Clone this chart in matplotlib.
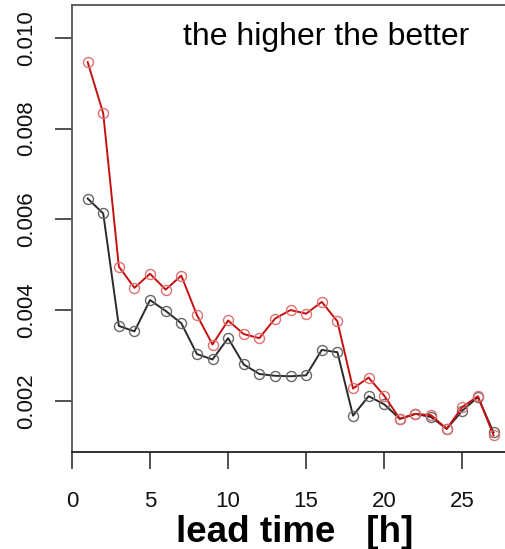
import matplotlib
matplotlib.use("Agg")
import matplotlib.pyplot as plt

lead_time = list(range(1, 28))
red_series = [0.00947, 0.00834, 0.00496, 0.00449, 0.00480, 0.00445, 0.00476, 0.00389,
              0.00324, 0.00377, 0.00347, 0.00338, 0.00381, 0.00400, 0.00392, 0.00418,
              0.00375, 0.00227, 0.00251, 0.00211, 0.00160, 0.00171, 0.00168, 0.00138,
              0.00186, 0.00210, 0.00124]
black_series = [0.00646, 0.00613, 0.00365, 0.00353, 0.00422, 0.00398, 0.00371, 0.00303,
                0.00291, 0.00338, 0.00280, 0.00259, 0.00255, 0.00254, 0.00256, 0.00312,
                0.00307, 0.00167, 0.00210, 0.00192, 0.00160, 0.00171, 0.00164, 0.00138,
                0.00178, 0.00208, 0.00130]
x_ticks = [0, 5, 10, 15, 20, 25]
y_ticks = [0.002, 0.004, 0.006, 0.008, 0.010]
y_ticklabels = ["0.002", "0.004", "0.006", "0.008", "0.010"]
annotation = "the higher the better"
x_label = "lead time   [h]"

plt.rcParams['font.family'] = ['Liberation Sans', 'DejaVu Sans']

W, H = 506, 549
fig = plt.figure(figsize=(W / 100, H / 100), dpi=100)
ax = fig.add_axes([72/W, 1 - 452/H, 1 - 72/W, (452 - 5)/H])

ax.plot(lead_time, black_series, color='#2a2a2a', lw=1.4, marker='o', ms=7.2,
        mfc='none', mec='#666666', mew=1.0, zorder=2)
ax.plot(lead_time, red_series, color='#c41010', lw=1.4, marker='o', ms=7.2,
        mfc='none', mec='#e07070', mew=1.0, zorder=3)

ax.set_xlim(0, 27.8)
ax.set_ylim(0.000869, 0.010728)
ax.set_xticks(x_ticks)
ax.set_yticks(y_ticks)
ax.set_yticklabels(y_ticklabels, rotation=90, va='center')

for s in ['left', 'top']:
    ax.spines[s].set_color('#555555')
    ax.spines[s].set_linewidth(1.3)
ax.spines['bottom'].set_color('#222222')
ax.spines['bottom'].set_linewidth(1.3)
ax.spines['right'].set_visible(False)

ax.tick_params(axis='both', length=12, width=1.2, color='#333333', labelsize=16,
               labelcolor='#111111')
ax.tick_params(axis='y', pad=13)
ax.tick_params(axis='x', pad=16)

fig.text(183/W, 1 - 37/H, annotation, fontsize=23,
         ha='left', va='center', color='black')

fig.text(295/W, 1 - 542/H, x_label, fontsize=26.5, fontweight='bold',
         ha='center', va='baseline', color='black')

fig.savefig("out.png", dpi=100)
